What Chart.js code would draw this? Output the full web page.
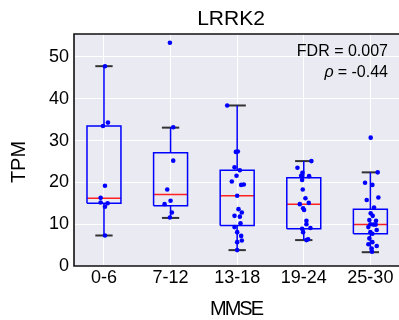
<!DOCTYPE html>
<html><head><meta charset="utf-8">
<script src="https://cdn.jsdelivr.net/npm/chart.js@4"></script>
<style>html,body{margin:0;padding:0;background:#fff;overflow:hidden;width:399px;height:320px}</style>
</head><body>
<canvas id="c" width="440" height="320" style="width:440px;height:320px;display:block"></canvas>
<script>
// ---- data ----
const categories = ['0-6', '7-12', '13-18', '19-24', '25-30'];
const yTicks = [0, 10, 20, 30, 40, 50];
const boxQ1 = [15.0, 14.4, 9.7, 8.9, 7.7];
const boxMedian = [16.2, 17.1, 16.8, 14.8, 9.9];
const boxQ3 = [33.5, 27.1, 22.9, 21.1, 13.6];
const whiskerLow = [7.3, 11.5, 3.8, 6.2, 3.3];
const whiskerHigh = [47.8, 33.1, 38.4, 25.1, 22.4];

const tpm_0_6 = [47.8, 34.3, 33.5, 19.2, 16.3, 15.2, 15.0, 14.2, 7.3];
const jitter_0_6 = [0.015, 0.06, -0.015, 0.015, -0.05, -0.05, 0.055, 0.015, 0.015];
const tpm_7_12 = [53.4, 33.2, 25.2, 18.3, 15.6, 14.8, 12.8, 11.6];
const jitter_7_12 = [-0.01, 0.04, 0.04, -0.05, 0.0, -0.09, 0.02, -0.01];
const tpm_13_18 = [38.4, 27.3, 27.4, 23.6, 22.9, 21.6, 20.2, 19.4, 19.5, 16.8, 13.6, 12.8, 12.0, 11.8, 10.2, 9.3, 8.1, 7.2, 6.1, 5.7, 3.8];
const jitter_13_18 = [-0.15, -0.02, 0.01, -0.04, 0.04, -0.01, -0.08, 0.06, 0.10, 0.0, 0.02, 0.07, -0.04, 0.04, 0.05, -0.04, 0.0, 0.06, 0.07, 0.0, 0.0];
const tpm_19_24 = [25.1, 23.5, 22.3, 21.6, 21.5, 20.6, 18.3, 16.2, 15.1, 14.8, 13.8, 13.4, 10.8, 10.0, 8.9, 9.1, 8.1, 6.4, 6.2];
const jitter_19_24 = [0.115, -0.095, -0.02, -0.04, 0.08, -0.025, -0.015, 0.025, 0.075, -0.06, -0.01, 0.005, 0.04, 0.04, -0.025, 0.1, -0.01, 0.065, 0.04];
const tpm_25_30 = [30.7, 22.4, 19.9, 19.4, 16.4, 15.8, 14.0, 12.6, 12.0, 11.0, 10.8, 10.0, 9.9, 9.9, 9.3, 8.6, 8.1, 7.7, 6.6, 5.7, 5.2, 4.8, 4.2, 3.4];
const jitter_25_30 = [0.005, 0.11, -0.08, 0.03, 0.12, -0.055, 0.055, 0.005, 0.035, -0.015, 0.085, 0.0, 0.045, 0.08, -0.03, 0.095, 0.0, 0.03, -0.015, 0.03, -0.03, 0.095, 0.02, 0.025];

const groupValues = [tpm_0_6, tpm_7_12, tpm_13_18, tpm_19_24, tpm_25_30];
const groupJitter = [jitter_0_6, jitter_7_12, jitter_13_18, jitter_19_24, jitter_25_30];
const titleText = 'LRRK2';
const xTitle = 'MMSE';
const yTitle = 'TPM';
const annotationLines = ['FDR = 0.007', '= -0.44'];

// ---- build datasets ----
const BOX_HALF = 0.255, CAP_HALF = 0.13;
const BLUE = '#0000ff', RED = '#ff2020', CAP = '#333333';
const datasets = [];
function seg(points, color, width) {
  datasets.push({type: 'scatter', data: points, showLine: true, borderColor: color, borderWidth: width,
    pointRadius: 0, pointHoverRadius: 0, fill: false, order: 2});
}
categories.forEach((c, i) => {
  seg([{x: i - BOX_HALF, y: boxQ1[i]}, {x: i + BOX_HALF, y: boxQ1[i]}, {x: i + BOX_HALF, y: boxQ3[i]},
       {x: i - BOX_HALF, y: boxQ3[i]}, {x: i - BOX_HALF, y: boxQ1[i]}], BLUE, 1.5);
  seg([{x: i, y: boxQ3[i]}, {x: i, y: whiskerHigh[i]}], BLUE, 1.5);
  seg([{x: i, y: boxQ1[i]}, {x: i, y: whiskerLow[i]}], BLUE, 1.5);
  seg([{x: i - CAP_HALF, y: whiskerHigh[i]}, {x: i + CAP_HALF, y: whiskerHigh[i]}], CAP, 2);
  seg([{x: i - CAP_HALF, y: whiskerLow[i]}, {x: i + CAP_HALF, y: whiskerLow[i]}], CAP, 2);
  seg([{x: i - BOX_HALF, y: boxMedian[i]}, {x: i + BOX_HALF, y: boxMedian[i]}], RED, 1.5);
});
const pts = [];
groupValues.forEach((vals, i) => vals.forEach((v, k) => pts.push({x: i + groupJitter[i][k], y: v})));
datasets.push({type: 'scatter', data: pts, pointRadius: 2.3, pointHoverRadius: 2.3,
  backgroundColor: BLUE, borderWidth: 0, order: 0});

const FONT = "'Liberation Sans', Arial, sans-serif";

const bgPlugin = {
  id: 'bg',
  beforeDraw(chart) {
    const {ctx, chartArea: a} = chart;
    ctx.save(); ctx.fillStyle = '#eaeaf2';
    ctx.fillRect(a.left, a.top, a.right - a.left, a.bottom - a.top); ctx.restore();
  },
  afterDatasetsDraw(chart) {
    const {ctx, chartArea: a} = chart;
    ctx.save(); ctx.strokeStyle = '#111'; ctx.lineWidth = 1.6;
    ctx.beginPath();
    ctx.moveTo(a.right, a.top); ctx.lineTo(a.left, a.top); ctx.lineTo(a.left, a.bottom); ctx.lineTo(a.right, a.bottom);
    ctx.stroke();
    ctx.fillStyle = '#000'; ctx.textBaseline = 'middle';
    // title
    ctx.textAlign = 'center';
    ctx.font = '21px ' + FONT;
    ctx.fillText(titleText, 231, 19);
    // x axis title
    ctx.font = '20px ' + FONT;
    if ('letterSpacing' in ctx) ctx.letterSpacing = '-2px';
    ctx.fillText(xTitle, 236, 309);
    if ('letterSpacing' in ctx) ctx.letterSpacing = '0px';
    // y axis title
    ctx.save();
    ctx.translate(19.5, 162);
    ctx.rotate(-Math.PI / 2);
    ctx.font = '20px ' + FONT;
    ctx.fillText(yTitle, 0, 0);
    ctx.restore();
    // annotation
    ctx.textAlign = 'right';
    ctx.font = '16px ' + FONT;
    const xr = 388;
    ctx.fillText(annotationLines[0], xr, 52);
    ctx.fillText(annotationLines[1], xr, 73);
    const w = ctx.measureText(annotationLines[1]).width;
    ctx.font = 'italic 16px ' + FONT;
    ctx.fillText('\u03C1', xr - w - 4, 73);
    ctx.restore();
  }
};

new Chart(document.getElementById('c'), {
  type: 'scatter',
  data: {datasets},
  options: {
    responsive: false, animation: false, devicePixelRatio: 1,
    layout: {padding: {left: 0, right: 33, top: 34, bottom: 0}},
    plugins: {legend: {display: false}, tooltip: {enabled: false}, title: {display: false}},
    scales: {
      x: {
        type: 'linear', min: -0.45, max: 4.55,
        afterBuildTicks: s => { s.ticks = categories.map((c, i) => ({value: i})); },
        afterFit: s => { s.height = 54; },
        ticks: {callback: v => categories[v], color: '#000', padding: 1, font: {family: FONT, size: 18}, maxRotation: 0, autoSkip: false},
        grid: {color: '#ffffff', lineWidth: 1, drawTicks: false},
        border: {display: false},
        title: {display: false}
      },
      y: {
        type: 'linear', min: 0, max: 55.5,
        afterBuildTicks: s => { s.ticks = yTicks.map(v => ({value: v})); },
        afterFit: s => { s.width = 74; },
        ticks: {color: '#000', padding: 5, font: {family: FONT, size: 18}},
        grid: {color: '#ffffff', lineWidth: 1, drawTicks: false},
        border: {display: false},
        title: {display: false}
      }
    }
  },
  plugins: [bgPlugin]
});
</script>
</body></html>
